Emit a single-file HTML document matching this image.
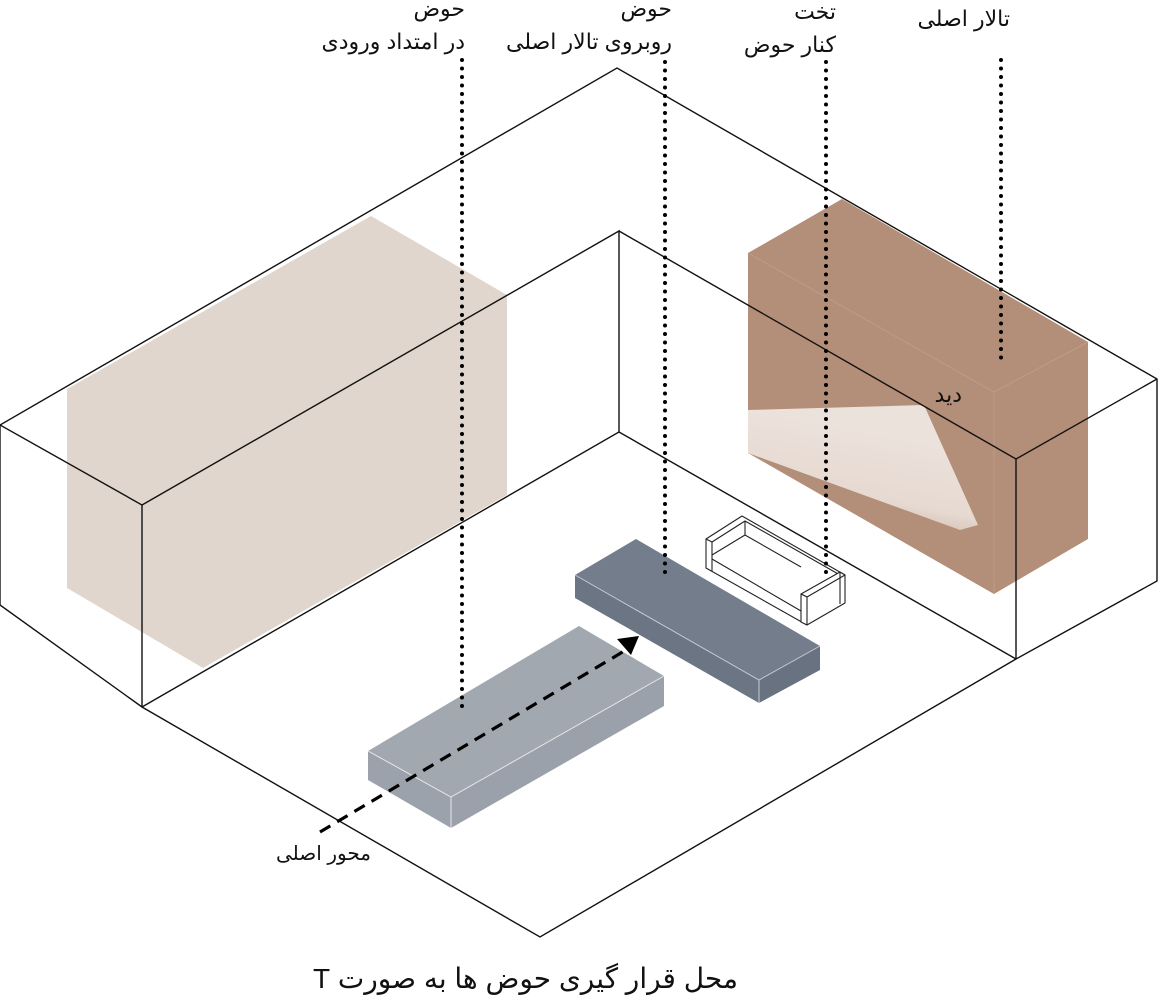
<!DOCTYPE html>
<html><head><meta charset="utf-8"><style>
html,body{margin:0;padding:0;background:#fff;}
svg{display:block;}
text{font-family:"Liberation Sans","DejaVu Sans",sans-serif;fill:#111;}
</style></head><body>
<svg width="1159" height="1000" viewBox="0 0 1159 1000" xmlns="http://www.w3.org/2000/svg">
<defs>
<linearGradient id="wedge" x1="0" y1="0" x2="-0.35" y2="1">
<stop offset="0" stop-color="#ece2dc"/>
<stop offset="0.5" stop-color="#e6d9d1"/>
<stop offset="1" stop-color="#b38f7a"/>
</linearGradient>
</defs>
<polygon points="67,389 371,216 507,295 507,495 203,668 67,588" fill="#e0d6cd"/>
<polygon points="748,253 842,199 1088,342 1088,539 994,594 748,453" fill="#b38e78"/>
<polyline points="748,253 994,392 1088,342" fill="none" stroke="#bf9c88" stroke-width="1"/>
<line x1="994" y1="392" x2="994" y2="594" stroke="#bf9c88" stroke-width="1"/>
<polygon points="748,410 924,405 978,525 960,530 748,453" fill="url(#wedge)"/>
<g fill="none" stroke="#111" stroke-width="1.4">
<polyline points="0,605 0,425 617,68 1157,379 1157,581 1016,659 540,937 142,707 0,605"/>
<polyline points="0,425 142,505 142,707"/>
<polyline points="142,505 619,231 619,432 142,707"/>
<polyline points="619,231 1016,459 1016,659"/>
<line x1="619" y1="432" x2="1016" y2="659"/>
<line x1="1016" y1="459" x2="1157" y2="379"/>
</g>
<g fill="#fff" stroke="#222" stroke-width="1.1" stroke-linejoin="round">
<polygon points="706,539 742,516 845,575 845,603 807,625 706,568"/>
<polyline points="712,542 745,521 840,575" fill="none"/>
<polyline points="745,521 745,535" fill="none"/>
<polyline points="712,555 745,535 801,567" fill="none"/>
<polyline points="712,559 801,611" fill="none"/>
<line x1="706" y1="539" x2="712" y2="542"/>
<line x1="712" y1="542" x2="712" y2="571"/>
<polygon points="801,594 840,572 845,575 807,597"/>
<polygon points="801,594 807,597 807,625 801,622"/>
<line x1="840" y1="572" x2="840" y2="604"/>
</g>
<polygon points="575,575 636,539 820,646 759,680" fill="#737d8b"/>
<polygon points="575,575 759,680 759,703 575,598" fill="#6b7584"/>
<polygon points="759,680 820,646 820,670 759,703" fill="#687281"/>
<polyline points="575,575 759,680 820,646" fill="none" stroke="#c4cad2" stroke-width="1"/>
<line x1="759" y1="680" x2="759" y2="703" stroke="#c4cad2" stroke-width="1"/>
<polygon points="368,751 579,626 664,676 451,797" fill="#a2a8b0"/>
<polygon points="368,751 451,797 451,828 368,780" fill="#9ca2ab"/>
<polygon points="451,797 664,676 664,706 451,828" fill="#9ba1aa"/>
<polyline points="368,751 451,797 664,676" fill="none" stroke="#e4e7ea" stroke-width="1"/>
<line x1="451" y1="797" x2="451" y2="828" stroke="#e4e7ea" stroke-width="1"/>
<line x1="320" y1="832" x2="626" y2="650" stroke="#000" stroke-width="3.2" stroke-dasharray="12,8"/>
<polygon points="639,636 617,639 631,655" fill="#000"/>
<g stroke="#000" stroke-width="4" stroke-linecap="round" stroke-dasharray="0,8.5">
<line x1="462" y1="60" x2="462" y2="708"/>
<line x1="665" y1="62" x2="665" y2="577"/>
<line x1="826" y1="62" x2="826" y2="575"/>
<line x1="1001" y1="60" x2="1001" y2="358"/>
</g>
<g font-size="22" text-anchor="start" direction="rtl">
<text x="465" y="16">حوض</text>
<text x="465" y="49">در امتداد ورودی</text>
<text x="672" y="16">حوض</text>
<text x="672" y="49">روبروی تالار اصلی</text>
<text x="836" y="19">تخت</text>
<text x="836" y="52">کنار حوض</text>
<text x="1010" y="26">تالار اصلی</text>
<text x="962" y="402">دید</text>
</g>
<text x="371" y="860" font-size="20" text-anchor="start" direction="rtl">محور اصلی</text>
<text x="738" y="988" font-size="28" text-anchor="start" direction="rtl">محل قرار گیری حوض ها به صورت T</text>
</svg>
</body></html>
